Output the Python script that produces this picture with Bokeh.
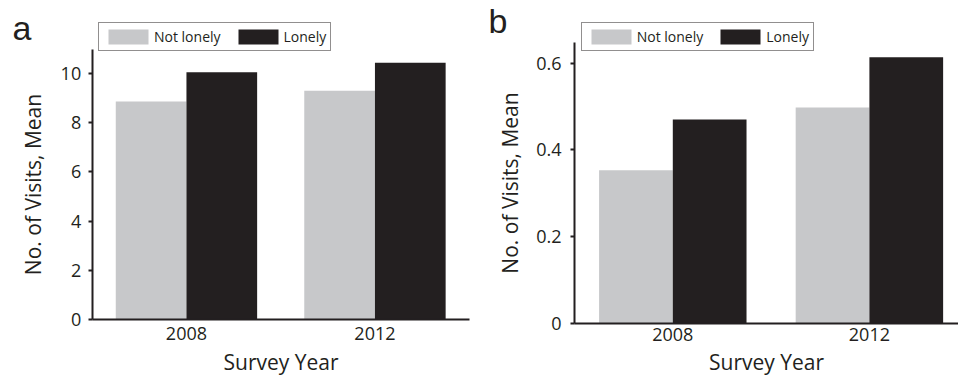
from bokeh.plotting import figure
from bokeh.layouts import row
from bokeh.models import (Range1d, FixedTicker, Legend, LegendItem, Label,
                          ColumnDataSource)
from bokeh.transform import dodge
from bokeh.embed import file_html
from bokeh.resources import INLINE

# ---- data ----
years = ["2008", "2012"]
groups = ["Not lonely", "Lonely"]
a_not_lonely = [8.85, 9.29]
a_lonely = [10.04, 10.42]
b_not_lonely = [0.353, 0.498]
b_lonely = [0.470, 0.614]
a_ticks = [0, 2, 4, 6, 8, 10]
b_ticks = [0, 0.2, 0.4, 0.6]
y_title = "No. of Visits, Mean"
x_title = "Survey Year"

FONT = "Open Sans"
INK = "#231f20"
GRAY = "#c7c8ca"
H = 376
BAR_W = 0.375


def panel(letter, nl, lo, width, axis_px, unit_px, zero_py, y_px_per, y_top, yticks,
          letter_xy, legend_xy, xtick_so, xlab_so, ytick_so, ylab_so):
    # categories sit at the middle of unit-wide slots starting at the y axis
    xpos = [i + 0.5 for i in range(len(years))]
    x0 = -axis_px / unit_px
    x1 = (width - axis_px) / unit_px
    y0 = -(H - zero_py) / y_px_per
    y1 = zero_py / y_px_per
    p = figure(width=width, height=H, x_range=Range1d(x0, x1), y_range=Range1d(y0, y1),
               output_backend="svg", toolbar_location=None,
               min_border=0, min_border_left=0, min_border_right=0,
               min_border_top=0, min_border_bottom=0)
    p.outline_line_color = None
    p.grid.visible = False
    p.background_fill_color = "white"
    p.border_fill_color = "white"

    src = ColumnDataSource(dict(x=xpos, nl=nl, lo=lo))
    r1 = p.vbar(x=dodge("x", -BAR_W / 2), top="nl", width=BAR_W, source=src,
                fill_color=GRAY, line_color=None)
    r2 = p.vbar(x=dodge("x", BAR_W / 2), top="lo", width=BAR_W, source=src,
                fill_color=INK, line_color=None)

    xa = p.xaxis[0]
    ya = p.yaxis[0]
    for ax in (xa, ya):
        ax.fixed_location = 0
        ax.axis_line_color = INK
        ax.axis_line_width = 2
        ax.major_label_text_font = FONT
        ax.major_label_text_font_size = "18px"
        ax.major_label_text_color = INK
        ax.axis_label_text_font = FONT
        ax.axis_label_text_font_size = "21px"
        ax.axis_label_text_font_style = "normal"
        ax.axis_label_text_color = INK
        ax.minor_tick_line_color = None

    xa.bounds = (0, len(years))
    xa.ticker = FixedTicker(ticks=xpos)
    xa.major_label_overrides = dict(zip(xpos, years))
    xa.major_tick_line_color = None
    xa.major_tick_in = 0
    xa.major_tick_out = 0
    xa.axis_label = x_title
    xa.major_label_standoff = xtick_so
    xa.axis_label_standoff = xlab_so

    ya.bounds = (0, y_top)
    ya.axis_label = y_title
    ya.ticker = FixedTicker(ticks=yticks)
    ya.major_label_overrides = {0: "0"}
    ya.major_tick_in = 0
    ya.major_tick_out = 4
    ya.major_tick_line_width = 2
    ya.major_tick_line_color = INK
    ya.major_label_standoff = ytick_so
    ya.axis_label_standoff = ylab_so

    legend = Legend(items=[LegendItem(label=groups[0], renderers=[r1]),
                           LegendItem(label=groups[1], renderers=[r2])],
                    orientation="horizontal", location=legend_xy, margin=0,
                    padding=4, spacing=12, glyph_width=50, glyph_height=19,
                    label_standoff=1, label_height=15,
                    label_text_font=FONT, label_text_font_size="14px",
                    label_text_color=INK, label_text_baseline="middle",
                    border_line_color=INK, border_line_width=1.5,
                    background_fill_color="white", background_fill_alpha=1)
    p.add_layout(legend)

    p.add_layout(Label(x=letter_xy[0], y=letter_xy[1], x_units="screen", y_units="screen",
                       text=letter, text_font="Liberation Sans", text_font_size="34px",
                       text_color=INK, text_baseline="alphabetic"))
    return p


pa = panel("a", a_not_lonely, a_lonely, 480, 91.7, 188.5, 319.3, 24.66, 10.95, a_ticks,
           (12, H - 27), (98, H - 50.7), 7, 5, 7, 11)
pb = panel("b", b_not_lonely, b_lonely, 478, 94.0, 196.6, 322.7, 433.3, 0.6485, b_ticks,
           (8, H - 20.3), (100.7, H - 51.3), 5, 3, 9, 9)

layout = row(pa, pb)
open("out.html", "w").write(file_html(layout, INLINE))
